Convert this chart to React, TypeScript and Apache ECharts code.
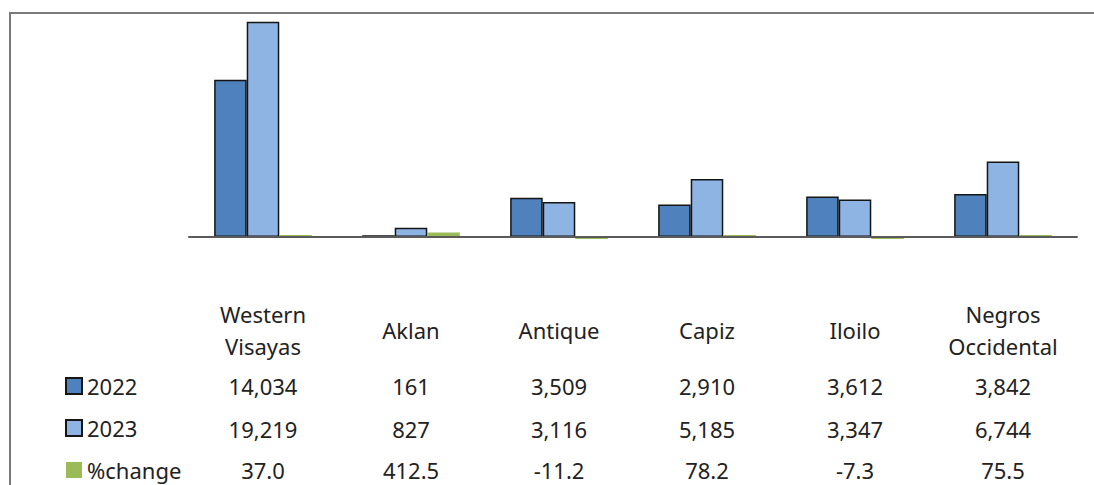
import React, { useEffect, useRef } from "react";
import * as echarts from "echarts";

const categories = ["Western\nVisayas", "Aklan", "Antique", "Capiz", "Iloilo", "Negros\nOccidental"];
const values2022 = [14034, 161, 3509, 2910, 3612, 3842];
const values2023 = [19219, 827, 3116, 5185, 3347, 6744];
const pctChange = [37.0, 412.5, -11.2, 78.2, -7.3, 75.5];
const seriesNames = ["2022", "2023", "%change"];

const FONT = "'Noto Sans', 'Open Sans', sans-serif";
const TXT = "#222222";
const fmtInt = (v: number) => v.toLocaleString("en-US");
const fmtPct = (v: number) => v.toFixed(1);

export default function App() {
  const ref = useRef<HTMLDivElement>(null);
  useEffect(() => {
    if (!ref.current) return;
    const chart = echarts.init(ref.current, null, { renderer: "svg" });
    const labelAxis = (margin: number, formatter: (v: string, i: number) => string, extra: any = {}) => ({
      type: "category",
      data: categories,
      position: "bottom",
      gridIndex: 0,
      axisLine: { show: false, onZero: false },
      axisTick: { show: false },
      splitLine: { show: false },
      axisLabel: {
        interval: 0,
        hideOverlap: false,
        margin,
        verticalAlign: "middle",
        fontFamily: FONT,
        fontSize: 22,
        color: TXT,
        formatter,
        ...extra,
      },
    });
    chart.setOption({
      animation: false,
      backgroundColor: "#ffffff",
      textStyle: { fontFamily: FONT },
      grid: { left: 189, right: 17, top: 13, bottom: 192, containLabel: false },
      legend: {
        orient: "vertical",
        left: 65,
        top: 375,
        padding: 0,
        itemWidth: 16,
        itemHeight: 16,
        itemGap: 20,
        selectedMode: false,
        icon: "rect",
        data: seriesNames,
        textStyle: { fontFamily: FONT, fontSize: 22, color: TXT, lineHeight: 22 },
      },
      xAxis: [
        {
          type: "category",
          data: categories,
          position: "bottom",
          z: 5,
          axisLine: { show: true, onZero: true, lineStyle: { color: "#5a5a5a", width: 2 } },
          axisTick: { show: false },
          axisLabel: { show: false },
          splitLine: { show: false },
        },
        labelAxis(37, (v: string) => v, { lineHeight: 32 }),
        labelAxis(93, (_v: string, i: number) => fmtInt(values2022[i])),
        labelAxis(136, (_v: string, i: number) => fmtInt(values2023[i])),
        labelAxis(177, (_v: string, i: number) => fmtPct(pctChange[i])),
      ],
      yAxis: {
        type: "value",
        min: -5000,
        max: 20000,
        show: false,
        splitLine: { show: false },
      },
      series: [
        {
          name: seriesNames[0],
          type: "bar",
          data: values2022,
          barGap: "0%",
          barCategoryGap: "34%",
          itemStyle: { color: "#4F81BD", borderColor: "#151515", borderWidth: 1.5 },
        },
        {
          name: seriesNames[1],
          type: "bar",
          data: values2023,
          barGap: "0%",
          barCategoryGap: "34%",
          itemStyle: { color: "#8EB4E3", borderColor: "#151515", borderWidth: 1.5 },
        },
        {
          name: seriesNames[2],
          type: "bar",
          data: pctChange,
          barGap: "0%",
          barCategoryGap: "34%",
          barMinHeight: 2,
          itemStyle: { color: "#9BBB59" },
        },
      ],
      graphic: [
        {
          type: "rect",
          x: 10,
          y: 13,
          silent: true,
          z: -10,
          shape: { x: 0, y: 0, width: 1300, height: 700 },
          style: { fill: "none", stroke: "#7a7a7a", lineWidth: 2 },
        },
      ],
    });
    return () => chart.dispose();
  }, []);
  return (
    <div
      ref={ref}
      style={{ position: "fixed", left: 0, top: 0, width: 1094, height: 485, background: "#fff" }}
    />
  );
}
